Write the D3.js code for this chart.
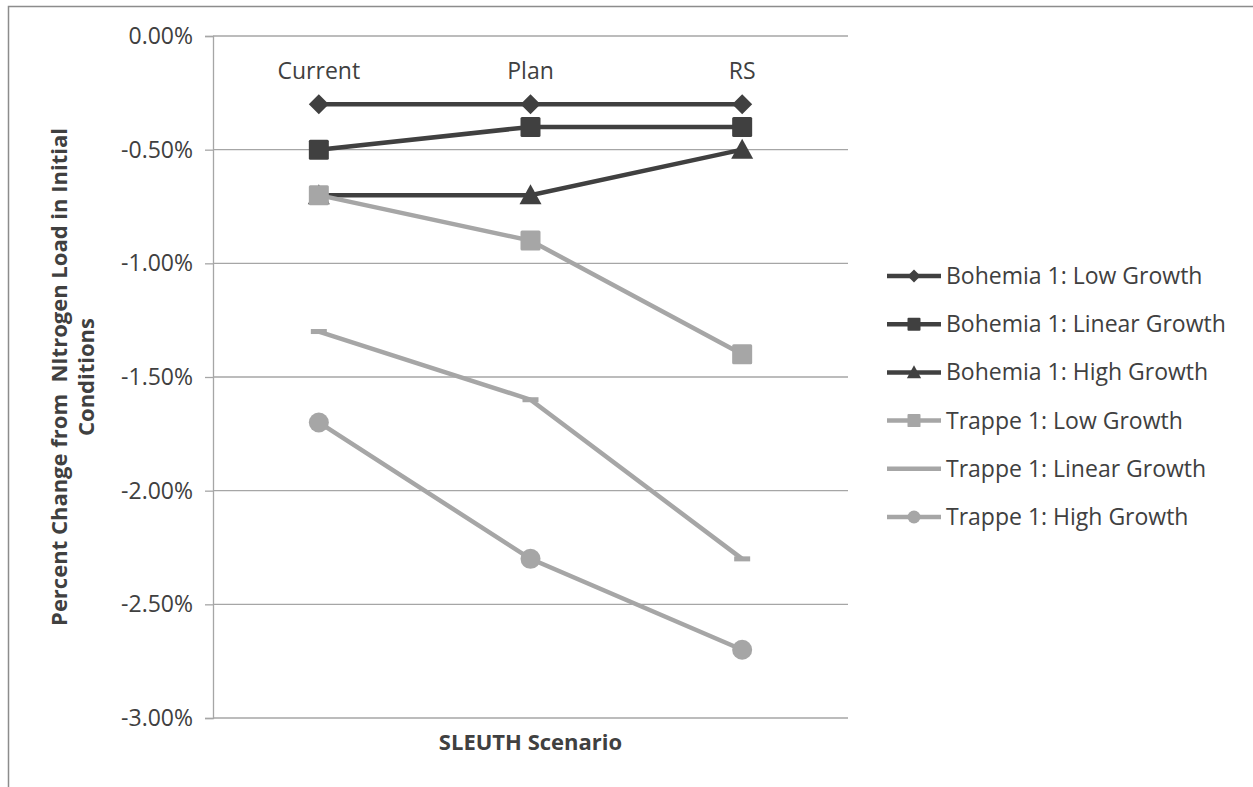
<!DOCTYPE html>
<html>
<head>
<meta charset="utf-8">
<script src="https://cdn.jsdelivr.net/npm/d3@7"></script>
<style>
  body { margin: 0; background: #fff; }
  text { font-family: "Open Sans", "Noto Sans", sans-serif; fill: #404040; }
</style>
</head>
<body>
<div id="chart"></div>
<script>
const scenarios = ['Current', 'Plan', 'RS']
const seriesNames = [
  'Bohemia 1: Low Growth',
  'Bohemia 1: Linear Growth',
  'Bohemia 1: High Growth',
  'Trappe 1: Low Growth',
  'Trappe 1: Linear Growth',
  'Trappe 1: High Growth'
]
const bohemiaLow = [-0.3, -0.3, -0.3]
const bohemiaLinear = [-0.5, -0.4, -0.4]
const bohemiaHigh = [-0.7, -0.7, -0.5]
const trappeLow = [-0.7, -0.9, -1.4]
const trappeLinear = [-1.3, -1.6, -2.3]
const trappeHigh = [-1.7, -2.3, -2.7]
const yTicks = [0, -0.5, -1, -1.5, -2, -2.5, -3]

const dark = '#404040'
const light = '#a6a6a6'

const series = [
  { name: seriesNames[0], values: bohemiaLow, color: dark, marker: 'diamond' },
  { name: seriesNames[1], values: bohemiaLinear, color: dark, marker: 'square' },
  { name: seriesNames[2], values: bohemiaHigh, color: dark, marker: 'triangle' },
  { name: seriesNames[3], values: trappeLow, color: light, marker: 'square' },
  { name: seriesNames[4], values: trappeLinear, color: light, marker: 'dash' },
  { name: seriesNames[5], values: trappeHigh, color: light, marker: 'circle' }
]

const W = 1253, H = 787
const plot = { left: 213, right: 848, top: 36, bottom: 718 }

const svg = d3.select('#chart').append('svg')
  .attr('width', W).attr('height', H)

// outer chart border (only top and left are in frame)
svg.append('rect')
  .attr('x', 8.5).attr('y', 6.5)
  .attr('width', W + 20).attr('height', H + 20)
  .attr('fill', 'none').attr('stroke', '#8c8c8c').attr('stroke-width', 1.5)

const x = d3.scaleBand().domain(scenarios).range([plot.left, plot.right])
const y = d3.scaleLinear().domain([-3, 0]).range([plot.bottom, plot.top])

// gridlines
svg.append('g').selectAll('line')
  .data(yTicks)
  .enter().append('line')
  .attr('x1', plot.left).attr('x2', plot.right)
  .attr('y1', d => y(d)).attr('y2', d => y(d))
  .attr('stroke', '#a6a6a6').attr('stroke-width', 1.3)

// y axis
const yAxis = svg.append('g')
  .attr('transform', 'translate(' + plot.left + ',0)')
  .call(d3.axisLeft(y).tickValues(yTicks).tickSize(8).tickPadding(12)
    .tickFormat(d => (d < 0 ? '-' : '') + Math.abs(d).toFixed(2) + '%'))
yAxis.select('.domain').attr('stroke', '#a6a6a6').attr('stroke-width', 1.3)
yAxis.selectAll('.tick line').attr('stroke', '#a6a6a6').attr('stroke-width', 1.3)
yAxis.selectAll('.tick text')
  .style('font-size', '23px').attr('fill', '#404040')
  .style('font-family', '"Open Sans", sans-serif')

// category labels at the top (axis crosses at 0)
svg.append('g').selectAll('text')
  .data(scenarios)
  .enter().append('text')
  .attr('x', d => x(d) + x.bandwidth() / 2)
  .attr('y', 79)
  .attr('text-anchor', 'middle')
  .style('font-size', '23px')
  .text(d => d)

// axis titles
svg.append('text')
  .attr('x', (plot.left + plot.right) / 2)
  .attr('y', 750)
  .attr('text-anchor', 'middle')
  .style('font-size', '22px').style('font-weight', 'bold')
  .attr('fill', '#000')
  .text('SLEUTH Scenario')

const yTitle = svg.append('text')
  .attr('transform', 'translate(67,377) rotate(-90)')
  .attr('text-anchor', 'middle')
  .style('font-size', '22px').style('font-weight', 'bold')
  .attr('fill', '#000')
yTitle.append('tspan').attr('x', 0).attr('dy', 0)
  .text('Percent Change from\u00a0 NItrogen Load in Initial')
yTitle.append('tspan').attr('x', 0).attr('dy', 27).text('Conditions')

function drawMarker(g, type, color) {
  if (type === 'diamond') {
    g.append('path').attr('d', 'M0,-10L10,0L0,10L-10,0Z').attr('fill', color)
  } else if (type === 'square') {
    g.append('rect').attr('x', -10).attr('y', -10).attr('width', 20).attr('height', 20)
      .attr('rx', 1.5).attr('fill', color)
  } else if (type === 'triangle') {
    g.append('path').attr('d', 'M0,-11L11,9L-11,9Z').attr('fill', color)
  } else if (type === 'circle') {
    g.append('circle').attr('r', 10).attr('fill', color)
  } else if (type === 'dash') {
    g.append('rect').attr('x', -8).attr('y', -2.5).attr('width', 16).attr('height', 5)
      .attr('fill', color)
  }
}

const line = d3.line()
  .x((d, i) => x(scenarios[i]) + x.bandwidth() / 2)
  .y(d => y(d))

// later series are drawn on top, like the original
const sg = svg.append('g').selectAll('g')
  .data(series)
  .enter().append('g')

sg.append('path')
  .attr('d', d => line(d.values))
  .attr('fill', 'none')
  .attr('stroke', d => d.color)
  .attr('stroke-width', 4.5)

sg.each(function (s) {
  const g = d3.select(this)
  s.values.forEach((v, i) => {
    const m = g.append('g')
      .attr('transform', 'translate(' + (x(scenarios[i]) + x.bandwidth() / 2) + ',' + y(v) + ')')
    drawMarker(m, s.marker, s.color)
  })
})

// legend
const legend = svg.append('g').attr('transform', 'translate(887,276)')
const row = legend.selectAll('g')
  .data(series)
  .enter().append('g')
  .attr('transform', (d, i) => 'translate(0,' + i * 48.2 + ')')

row.append('line')
  .attr('x1', 0).attr('x2', 54)
  .attr('stroke', d => d.color).attr('stroke-width', 4.5)

row.each(function (s) {
  if (s.marker === 'dash') return
  const m = d3.select(this).append('g')
    .attr('transform', 'translate(27,0) scale(0.65)')
  drawMarker(m, s.marker, s.color)
})

row.append('text')
  .attr('x', 59).attr('y', 8)
  .style('font-size', '23px')
  .attr('fill', '#1a1a1a')
  .text(d => d.name)
</script>
</body>
</html>
